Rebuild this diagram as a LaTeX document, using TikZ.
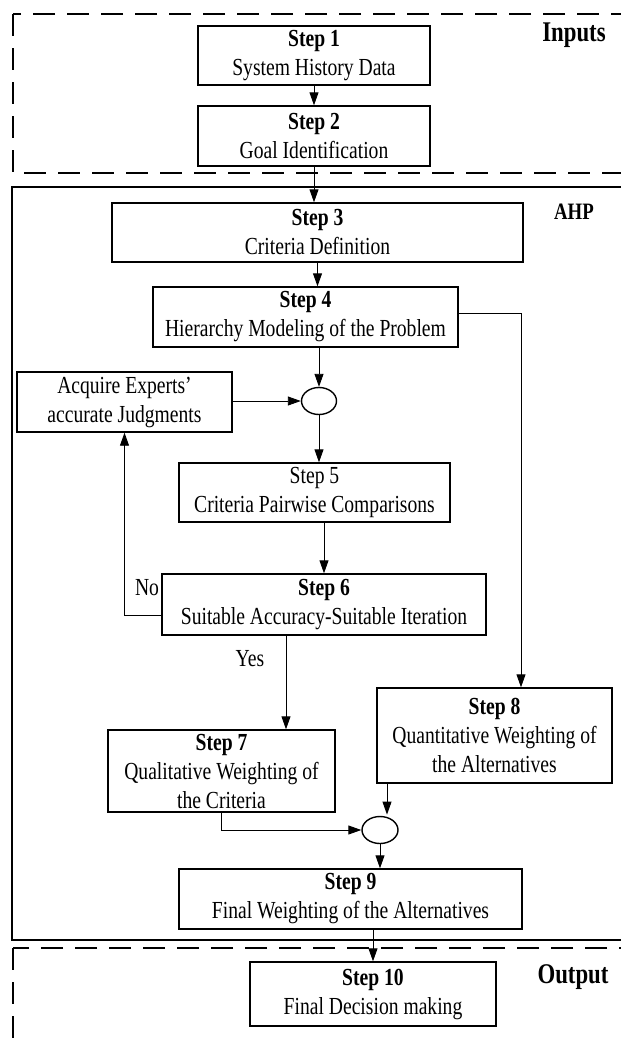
\documentclass[tikz,border=0pt]{standalone}
\usepackage{fontspec}
\setmainfont{Liberation Serif}[FakeStretch=0.8]
\usetikzlibrary{arrows.meta,shapes.geometric}
\begin{document}
\begin{tikzpicture}[x=1pt,y=-1pt,
  stepbox/.style={draw,line width=1.4pt,align=center,inner sep=0pt,
    font=\fontsize{24.5}{29}\selectfont},
  junction/.style={draw,line width=1.4pt,ellipse,inner sep=0pt},
  arr/.style={line width=0.9pt,-{Triangle[length=13pt,width=9pt]}},
  dashframe/.style={line width=2.8pt,dash pattern=on 22pt off 12pt},
  solidframe/.style={line width=2.4pt},
  zonelabel/.style={font=\fontsize{28.5}{30}\selectfont\bfseries},
  smalllabel/.style={font=\fontsize{24.5}{28}\selectfont}]
\useasboundingbox (0,0) rectangle (621,1039);
% frames
\draw[dashframe] (13,14) rectangle (640,173);
\draw[solidframe] (12,187) rectangle (640,940);
\draw[dashframe] (13,948) rectangle (640,1060);
% zone labels
\node[zonelabel] (lin) at (574,35) {Inputs};
\node[font=\fontsize{23.5}{26}\selectfont\bfseries] (lahp) at (574,212) {AHP};
\node[zonelabel] (lout) at (573,977) {Output};
% boxes
\node[stepbox,minimum width=232pt,minimum height=59pt] (s1) at (314,55.5) {\textbf{Step 1}\\System History Data};
\node[stepbox,minimum width=232pt,minimum height=60pt] (s2) at (314,136) {\textbf{Step 2}\\Goal Identification};
\node[stepbox,minimum width=411pt,minimum height=59pt] (s3) at (317.5,232.5) {\textbf{Step 3}\\Criteria Definition};
\node[stepbox,minimum width=305pt,minimum height=60pt] (s4) at (305.5,317) {\textbf{Step 4}\\Hierarchy Modeling of the Problem};
\node[junction,minimum width=35pt,minimum height=27pt] (c1) at (319,401) {};
\node[stepbox,minimum width=215pt,minimum height=60pt] (acq) at (124.5,402) {Acquire Experts'\\accurate Judgments};
\node[stepbox,minimum width=271pt,minimum height=59pt] (s5) at (314.5,492.5) {Step 5\\Criteria Pairwise Comparisons};
\node[stepbox,minimum width=324pt,minimum height=61pt] (s6) at (324,604.5) {\textbf{Step 6}\\Suitable Accuracy-Suitable Iteration};
\node[stepbox,minimum width=227pt,minimum height=82pt] (s7) at (221.5,771) {\textbf{Step 7}\\Qualitative Weighting of\\the Criteria};
\node[stepbox,minimum width=235pt,minimum height=95pt] (s8) at (494.5,735.5) {\textbf{Step 8}\\Quantitative Weighting of\\the Alternatives};
\node[junction,minimum width=36pt,minimum height=27pt] (c2) at (380,830) {};
\node[stepbox,minimum width=343pt,minimum height=60pt] (s9) at (350.5,899) {\textbf{Step 9}\\Final Weighting of the Alternatives};
\node[stepbox,minimum width=246pt,minimum height=64pt] (s10) at (373,994) {\textbf{Step 10}\\Final Decision making};
% helper coordinates
\coordinate (nob) at (124,615);
\coordinate (yx) at (286,0);
\coordinate (rx) at (521,313);
\coordinate (x387) at (387,0);
% connectors
\draw[arr] (s1.south) -- (s2.north);
\draw[arr] (s2.south) -- (s2.south |- s3.north);
\draw[arr] (s3.south) -- (s3.south |- s4.north);
\draw[arr] (s4.south -| c1) -- (c1.north);
\draw[arr] (acq.east |- c1) -- (c1.west);
\draw[arr] (c1.south) -- (c1.south |- s5.north);
\draw[arr] (s6.north |- s5.south) -- (s6.north);
\draw[arr] (s6.west |- nob) -| (acq.south);
\node[smalllabel] (lno) at (147,588) {No};
\draw[arr] (s6.south -| yx) -- (s7.north -| yx);
\node[smalllabel] (lyes) at (250,659) {Yes};
\draw[arr] (s4.east |- rx) -| (s8.north -| rx);
\draw[arr] (s7.south) |- (c2.west);
\draw[arr] (s8.south -| x387) -- ([yshift=1.2pt]c2.north -| x387);
\draw[arr] (c2.south) -- (c2.south |- s9.north);
\draw[arr] (s10.north |- s9.south) -- (s10.north);
\end{tikzpicture}
\end{document}
